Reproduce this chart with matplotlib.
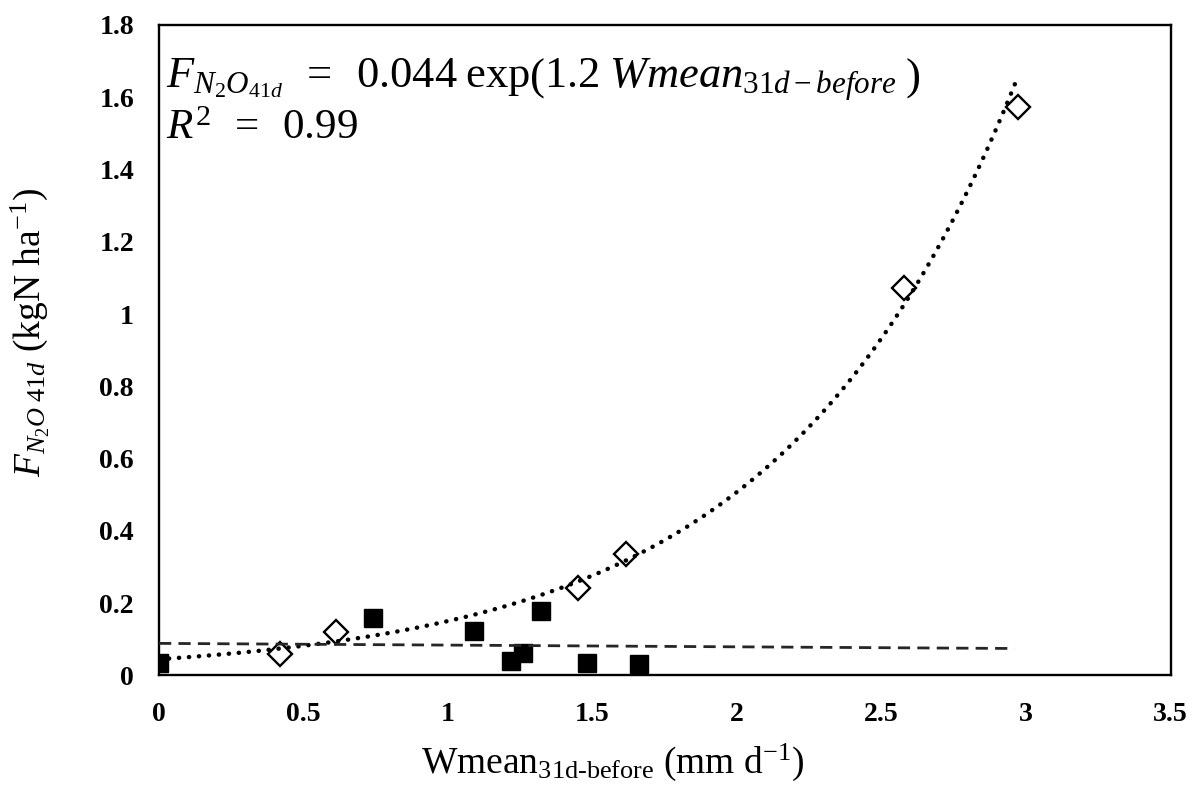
import numpy as np
import matplotlib
matplotlib.use("Agg")
import matplotlib.pyplot as plt

# ---- data ----
open_x = [0.419, 0.612, 1.451, 1.616, 2.576, 2.973]
open_y = [0.059, 0.121, 0.241, 0.336, 1.073, 1.574]
filled_x = [0.0, 0.742, 1.091, 1.217, 1.258, 1.322, 1.480, 1.660]
filled_y = [0.035, 0.159, 0.123, 0.040, 0.063, 0.179, 0.035, 0.031]
trend_range = [0.0, 2.973]
lin_range = [0.0, 2.96]
x_ticks = [0, 0.5, 1, 1.5, 2, 2.5, 3, 3.5]
x_tick_labels = ["0", "0.5", "1", "1.5", "2", "2.5", "3", "3.5"]
y_ticks = [0, 0.2, 0.4, 0.6, 0.8, 1.0, 1.2, 1.4, 1.6, 1.8]
y_tick_labels = ["0", "0.2", "0.4", "0.6", "0.8", "1", "1.2", "1.4", "1.6", "1.8"]

plt.rcParams['font.family'] = ['Liberation Serif', 'DejaVu Serif']
plt.rcParams['mathtext.fontset'] = 'custom'
plt.rcParams['mathtext.rm'] = 'Liberation Serif'
plt.rcParams['mathtext.it'] = 'Liberation Serif:italic'
plt.rcParams['mathtext.bf'] = 'Liberation Serif:bold'

fig = plt.figure(figsize=(11.98, 7.92), dpi=100)
ax = fig.add_axes([159/1198, 1-675.3/792, (1170.7-159)/1198, (675.3-25)/792])

# fits
b, ln_a = np.polyfit(open_x, np.log(open_y), 1)
xt = np.linspace(trend_range[0], trend_range[1], 300)
ax.plot(xt, np.exp(ln_a) * np.exp(b * xt), color='black', lw=3.2,
        linestyle=(0, (0.05, 2.2)), dash_capstyle='round', zorder=4)
m, c = np.polyfit(filled_x, filled_y, 1)
xl = np.array(lin_range)
ax.plot(xl, m * xl + c, color='#262626', lw=2.0, linestyle=(0, (4.4, 2.6)), zorder=4)

ax.plot(open_x, open_y, linestyle='none', marker='D', ms=12, mfc='white',
        mec='black', mew=1.7, zorder=3)
ax.plot(filled_x, filled_y, linestyle='none', marker='s', ms=12.5, mfc='black',
        mec='black', zorder=3)

ax.set_xlim(0, 3.5)
ax.set_ylim(0, 1.8)
ax.set_xticks(x_ticks)
ax.set_xticklabels(x_tick_labels, fontweight='bold', fontsize=20)
ax.set_yticks(y_ticks)
ax.set_yticklabels(y_tick_labels, fontweight='bold', fontsize=20)
ax.tick_params(length=0, pad=0)
ax.tick_params(axis='x', pad=19)
ax.tick_params(axis='y', pad=18)
for s in ax.spines.values():
    s.set_linewidth(1.7)
    s.set_color('black')

ax.text(0.007, 0.952,
        r'$F_{N_2O_{41d}}\;\;=\;\;0.044\;\mathrm{exp}\left(1.2\;Wmean_{31d-before}\;\right)$',
        transform=ax.transAxes, ha='left', va='top', fontsize=32)
ax.text(0.007, 0.87, r'$R^2\;\;=\;\;0.99$', transform=ax.transAxes, ha='left', va='top',
        fontsize=31)

fig.text(613/1198, 1-773/792,
         r'Wmean$_{\mathregular{31d\text{-}before}}$ (mm d$^{\mathregular{-1}}$)',
         ha='center', va='baseline', fontsize=27)
fig.text(30/1198, 1-332/792, r'$F_{N_2O\ 41d}$ (kgN ha$^{\mathregular{-1}}$)',
         ha='center', va='center', rotation=90, fontsize=27)

fig.savefig('out.png', dpi=100)
